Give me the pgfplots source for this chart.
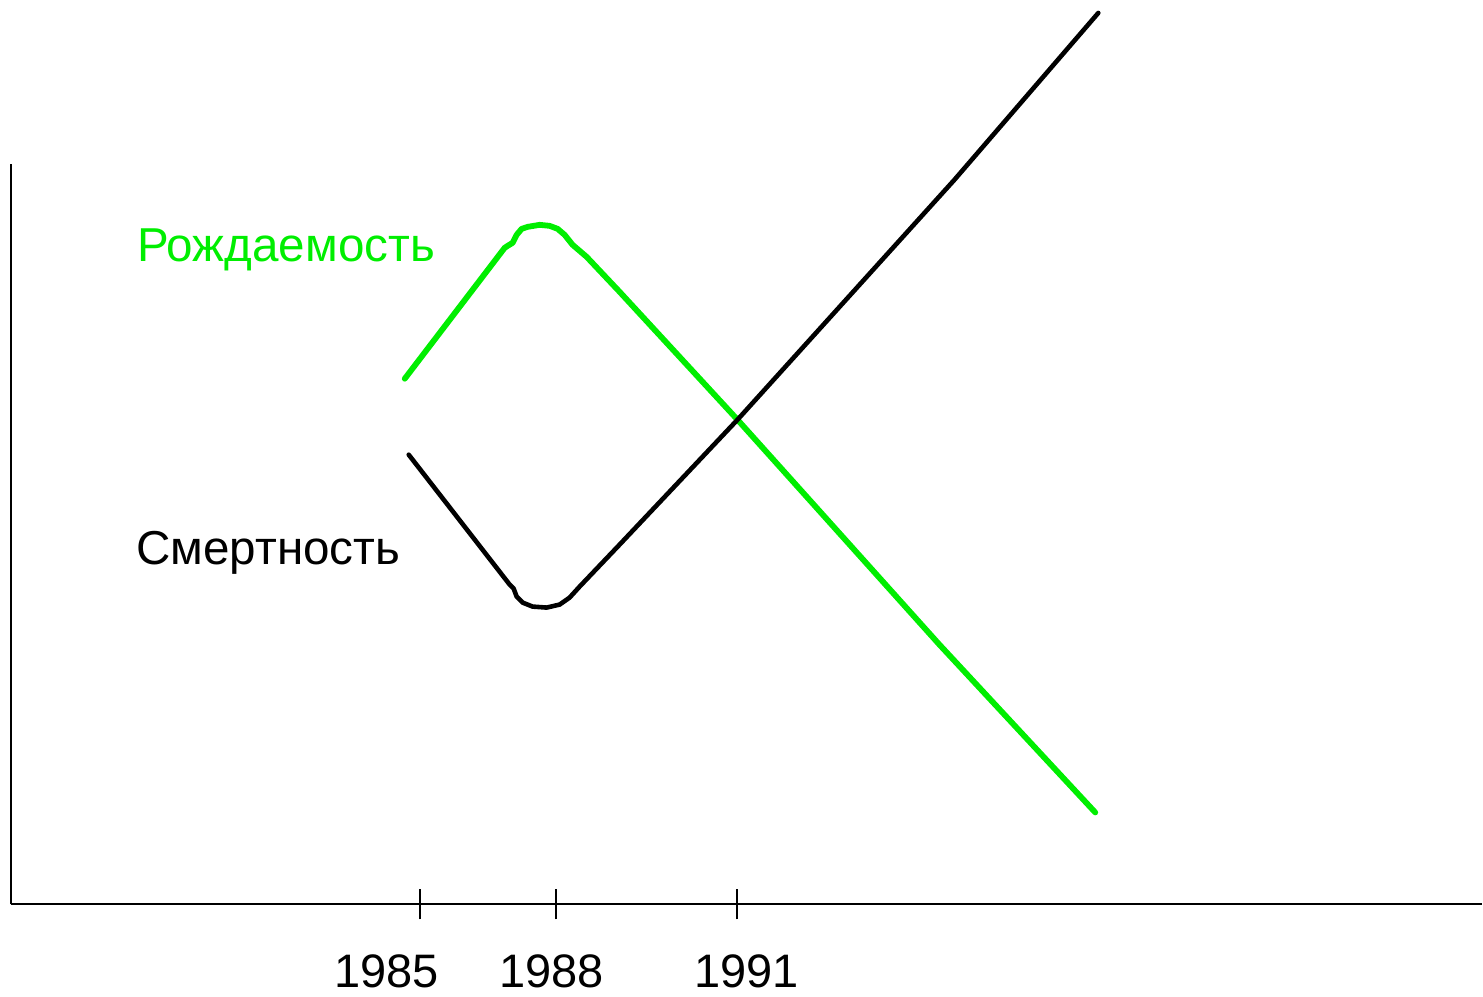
\documentclass[border=0pt]{standalone}
\usepackage{fontspec}
\setmainfont{Liberation Sans}
\usepackage{pgfplots}
\pgfplotsset{compat=1.18}
\definecolor{birthgreen}{RGB}{0,238,0}

% Coordinates are in a plain drawing grid (1 unit = 0.5pt), y upwards.
\pgfplotstableread{
x y
405 618
505 749
508 751
513 754
517 762
522 768
528 770
540 772
550 771
558 768
565 762
573 752
587 740
620 705
738 577
940 352
1096 184
}\births

\pgfplotstableread{
x y
409 542
510 412
514 408
517 400
523 394
533 390
547 389
560 392
570 399
580 410
620 452
738 577
955 817
1099 984
}\deaths

\begin{document}
\begin{tikzpicture}
\begin{axis}[
  scale only axis,
  width=736pt, height=370.5pt,
  xmin=11, xmax=1483, ymin=92, ymax=833,
  axis x line=bottom, axis y line=left,
  axis line style={-, line width=1pt, black},
  xtick={420,556,737}, xticklabels={},
  ytick=\empty,
  tick align=center,
  major tick length=15pt,
  tick style={line width=1pt, black},
  clip=false,
]
  \path (axis cs:0,0) rectangle (axis cs:1483,997);
  \addplot[birthgreen, line width=2.9pt, line join=round, line cap=round, no markers] table[x=x,y=y] {\births};
  \addplot[black, line width=2.3pt, line join=round, line cap=round, no markers] table[x=x,y=y] {\deaths};
  \node[anchor=base west, inner sep=0pt, text=birthgreen, font=\fontsize{23.8pt}{28pt}\selectfont] at (axis cs:137,735) {Рождаемость};
  \node[anchor=base west, inner sep=0pt, text=black, font=\fontsize{23.8pt}{28pt}\selectfont] at (axis cs:136,432) {Смертность};
  \node[anchor=base, inner sep=0pt, font=\fontsize{23.5pt}{28pt}\selectfont] at (axis cs:387,9) {1985};
  \node[anchor=base, inner sep=0pt, font=\fontsize{23.5pt}{28pt}\selectfont] at (axis cs:552,9) {1988};
  \node[anchor=base, inner sep=0pt, font=\fontsize{23.5pt}{28pt}\selectfont] at (axis cs:747,9) {1991};
\end{axis}
\end{tikzpicture}
\end{document}
